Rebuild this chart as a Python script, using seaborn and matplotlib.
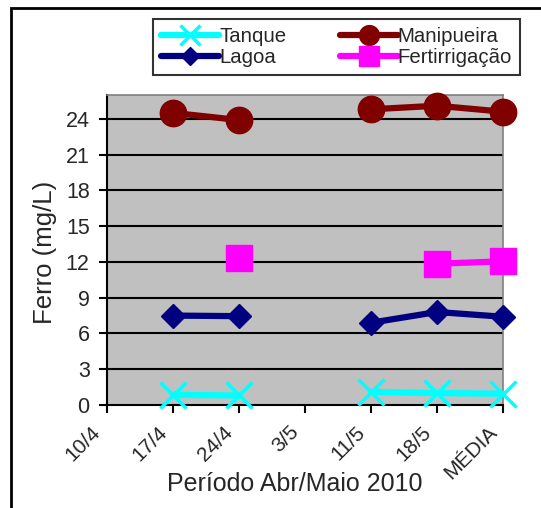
import numpy as np
import pandas as pd
import seaborn as sns
import matplotlib
matplotlib.use("Agg")
import matplotlib.pyplot as plt
import matplotlib.transforms as mtrans
from matplotlib.patches import Rectangle

categories = ["10/4", "17/4", "24/4", "3/5", "11/5", "18/5", "MÉDIA"]
tanque = [np.nan, 0.85, 0.8, np.nan, 1.1, 1.0, 0.95]
manipueira = [np.nan, 24.5, 23.9, np.nan, 24.8, 25.1, 24.6]
lagoa = [np.nan, 7.5, 7.45, np.nan, 6.9, 7.8, 7.4]
fertirrigacao = [np.nan, np.nan, 12.3, np.nan, np.nan, 11.85, 12.05]
y_ticks = [0, 3, 6, 9, 12, 15, 18, 21, 24]

sns.set_theme(style="white")
plt.rcParams['font.family'] = ['Liberation Sans', 'DejaVu Sans']

fig = plt.figure(figsize=(5.41, 5.08), dpi=100)
W, H = 541, 508
ax = fig.add_axes([107 / W, 1 - 405 / H, (503 - 107) / W, (405 - 95) / H])
ax.set_facecolor("#c0c0c0")

series = [
    ("Tanque", tanque, "#00ffff", "x", 19),
    ("Manipueira", manipueira, "#800000", "o", 19),
    ("Lagoa", lagoa, "#000080", "D", 12.5),
    ("Fertirrigação", fertirrigacao, "#ff00ff", "s", 18.5),
]
x = np.arange(len(categories))
for name, vals, col, mk, ms in series:
    v = np.array(vals, dtype=float)
    seg = np.cumsum(np.isnan(v))
    df = pd.DataFrame({"x": x, "y": v, "seg": seg}).dropna()
    mew = 2.5 if mk == "x" else 1
    sns.lineplot(data=df, x="x", y="y", units="seg", estimator=None, ax=ax,
                 color=col, linewidth=4.5, marker=mk, markersize=ms,
                 markeredgecolor=col, markeredgewidth=mew, clip_on=False,
                 zorder=5, legend=False)
    ax.plot([], [], color=col, linewidth=4.5, marker=mk, markersize=ms * 0.75,
            markeredgecolor=col, markeredgewidth=mew, label=name)

ax.set_xlim(0, 6)
ax.set_ylim(0, 26)
ax.set_yticks(y_ticks)
ax.set_yticklabels([str(v) for v in y_ticks], fontsize=15.5)
ax.set_xticks(x)
ax.set_xticklabels(categories, rotation=45, ha="right", rotation_mode="anchor",
                   fontsize=15)
ax.tick_params(axis="both", direction="out", length=5.5, width=1.5,
               color="black", bottom=True, left=True)
ax.tick_params(axis="y", pad=7)
ax.tick_params(axis="x", pad=7)
for y in y_ticks[1:]:
    ax.axhline(y, color="black", linewidth=1.5, zorder=1)
ax.spines["left"].set_color("black")
ax.spines["left"].set_linewidth(1.5)
ax.spines["bottom"].set_color("black")
ax.spines["bottom"].set_linewidth(1.5)
ax.spines["top"].set_color("#808080")
ax.spines["right"].set_color("#808080")
ax.spines["top"].set_linewidth(1.2)
ax.spines["right"].set_linewidth(1.2)

ax.set_xlabel("")
ax.set_ylabel("")
fig.text(295 / W, 1 - 484 / H, "Período Abr/Maio 2010", fontsize=18,
         ha="center", va="center")
fig.text(45 / W, 1 - 252 / H, "Ferro (mg/L)", fontsize=18.5, rotation=90,
         ha="center", va="center")

h, l = ax.get_legend_handles_labels()
order = [0, 2, 1, 3]
leg = fig.legend([h[i] for i in order], [l[i] for i in order], ncol=2,
                 loc="upper left", bbox_to_anchor=(153 / W, 1 - 19 / H),
                 frameon=True, fontsize=14.7, handlelength=2.85,
                 handletextpad=0.0, columnspacing=2.6, borderpad=0.4,
                 labelspacing=0.08, borderaxespad=0, fancybox=False,
                 edgecolor="black")
leg.get_frame().set_linewidth(1.5)

fig.patches.append(Rectangle((11 / W, -0.1), 1.2, 1 - 8 / H + 0.1,
                             transform=fig.transFigure, fill=False,
                             edgecolor="black", linewidth=2))

offset = mtrans.ScaledTranslation(-16 / 100, 0, fig.dpi_scale_trans)
for t in ax.xaxis.get_major_ticks():
    t.label1.set_transform(t.label1.get_transform() + offset)

fig.savefig("out.png", dpi=100)
